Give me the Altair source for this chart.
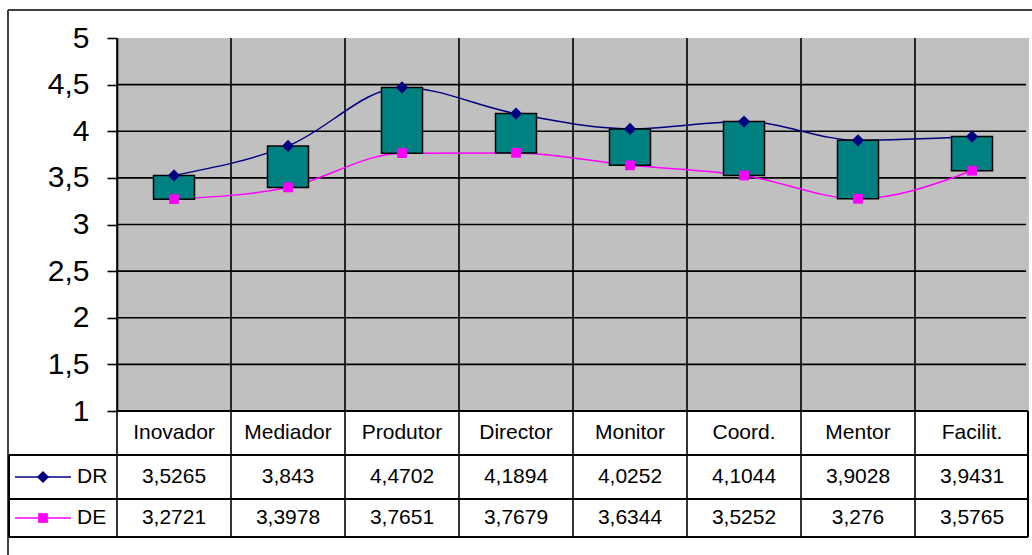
import altair as alt
import pandas as pd

# Role categories and the two series (DR / DE)
CATEGORIES = ["Inovador", "Mediador", "Produtor", "Director",
              "Monitor", "Coord.", "Mentor", "Facilit."]
DR = [3.5265, 3.843, 4.4702, 4.1894, 4.0252, 4.1044, 3.9028, 3.9431]
DE = [3.2721, 3.3978, 3.7651, 3.7679, 3.6344, 3.5252, 3.276, 3.5765]
SERIES = ["DR", "DE"]
Y_TICKS = [1, 1.5, 2, 2.5, 3, 3.5, 4, 4.5, 5]
GRID_LINES = [1.5, 2, 2.5, 3, 3.5, 4, 4.5]

# plot-area size and layout of the data table underneath (pixels)
W, H = 912, 373
ROW_DR_TOP, ROW_DE_TOP, TABLE_BOTTOM = 417, 461, 499
HEADER_Y, DR_Y, DE_Y = 395, 439, 480
LEFT_EDGE = -108

FONT = "Liberation Sans"
NAVY, MAGENTA, TEAL, GRAY = "#000080", "#FF00FF", "#008080", "#C0C0C0"
DIAMOND_SIZE, SQUARE_SIZE = 150, 95

df = pd.DataFrame({"cat": CATEGORIES, "DR": DR, "DE": DE})

x_scale = alt.Scale(domain=CATEGORIES, paddingInner=0, paddingOuter=0)
y_scale = alt.Scale(domain=[1, 5], nice=False, zero=False)
x_enc = alt.X("cat:N", sort=CATEGORIES, scale=x_scale, axis=None)
y_axis = alt.Axis(values=Y_TICKS, grid=False, tickSize=10,
                  tickColor="black", tickWidth=1.6,
                  domainColor="black", domainWidth=1.6,
                  labelFont=FONT, labelFontSize=30,
                  labelColor="black", labelPadding=18,
                  labelExpr="replace(format(datum.value, ''), '.', ',')")


def y_enc(field):
    return alt.Y(field, scale=y_scale, axis=y_axis, title=None)


def hline(y, x0, x1, width=1.6, color="black"):
    return alt.Chart(df).mark_rule(color=color, strokeWidth=width).encode(
        x=alt.value(x0), x2=alt.value(x1), y=alt.value(y))


def vline(x, y0, y1, width=1.6, color="black"):
    return alt.Chart(df).mark_rule(color=color, strokeWidth=width).encode(
        x=alt.value(x), y=alt.value(y0), y2=alt.value(y1))


# outer frame
frame = [
    hline(-28, -109, 925, 2, "#404040"),
    vline(-109, -28, 530, 2, "#404040"),
]

# data table grid
table = [
    hline(H, 0, W - 1),
    hline(ROW_DR_TOP, LEFT_EDGE, W - 1),
    hline(ROW_DE_TOP, LEFT_EDGE, W - 1),
    hline(TABLE_BOTTOM, LEFT_EDGE, W - 1),
    vline(LEFT_EDGE, ROW_DR_TOP, TABLE_BOTTOM, 2),
    vline(W - 1, H, TABLE_BOTTOM),
]

# category boundaries running through plot and table
vgrid = alt.Chart(df).mark_rule(color="black", strokeWidth=1.6).encode(
    x=alt.X("cat:N", sort=CATEGORIES, scale=x_scale, axis=None, bandPosition=0),
    y=alt.value(0), y2=alt.value(TABLE_BOTTOM))

hgrid = alt.Chart(pd.DataFrame({"v": GRID_LINES})).mark_rule(
    color="black", strokeWidth=1.6).encode(
    y=y_enc("v:Q"), x=alt.value(0), x2=alt.value(W - 3))

dr_line = alt.Chart(df).mark_line(color=NAVY, strokeWidth=1.5,
                                  interpolate="monotone").encode(
    x=x_enc, y=y_enc("DR:Q"))
de_line = alt.Chart(df).mark_line(color=MAGENTA, strokeWidth=1.5,
                                  interpolate="monotone").encode(
    x=x_enc, y=y_enc("DE:Q"))

# up-down bars between the two series
bars = alt.Chart(df).mark_bar(color=TEAL, stroke="black", strokeWidth=1.5,
                              size=41).encode(
    x=x_enc, y=y_enc("DE:Q"), y2="DR:Q")

dr_pts = alt.Chart(df).mark_point(shape="diamond", filled=True, color=NAVY,
                                  size=DIAMOND_SIZE, opacity=1).encode(
    x=x_enc, y=y_enc("DR:Q"))
de_pts = alt.Chart(df).mark_point(shape="square", filled=True, color=MAGENTA,
                                  size=SQUARE_SIZE, opacity=1).encode(
    x=x_enc, y=y_enc("DE:Q"))

# table contents
txt = dict(font=FONT, fontSize=21, color="black", baseline="middle")
header = alt.Chart(df).mark_text(**txt).encode(
    x=x_enc, y=alt.value(HEADER_Y), text="cat:N")
dr_vals = alt.Chart(df).transform_calculate(
    lab="replace(toString(datum.DR), '.', ',')").mark_text(**txt).encode(
    x=x_enc, y=alt.value(DR_Y), text="lab:N")
de_vals = alt.Chart(df).transform_calculate(
    lab="replace(toString(datum.DE), '.', ',')").mark_text(**txt).encode(
    x=x_enc, y=alt.value(DE_Y), text="lab:N")


def legend_key(name, y, color, shape, size):
    one = pd.DataFrame({"s": [name]})
    line = alt.Chart(one).mark_rule(color=color, strokeWidth=1.5).encode(
        x=alt.value(-102), x2=alt.value(-46), y=alt.value(y))
    mark = alt.Chart(one).mark_point(shape=shape, filled=True, color=color,
                                     size=size, opacity=1).encode(
        x=alt.value(-74), y=alt.value(y))
    label = alt.Chart(one).mark_text(align="left", **txt).encode(
        x=alt.value(-40), y=alt.value(y), text="s:N")
    return [line, mark, label]


keys = (legend_key(SERIES[0], DR_Y, NAVY, "diamond", DIAMOND_SIZE)
        + legend_key(SERIES[1], DE_Y, MAGENTA, "square", SQUARE_SIZE))

chart = alt.layer(
    *frame, *table, vgrid, hgrid, dr_line, de_line, bars, dr_pts, de_pts,
    header, dr_vals, de_vals, *keys
).properties(
    width=W, height=H,
    padding={"left": 117, "top": 38, "right": 3, "bottom": 144},
    autosize="none",
    background="white",
).configure_view(fill=GRAY, strokeWidth=0)

chart.save("out.html", embed_options={"renderer": "svg", "actions": False})
